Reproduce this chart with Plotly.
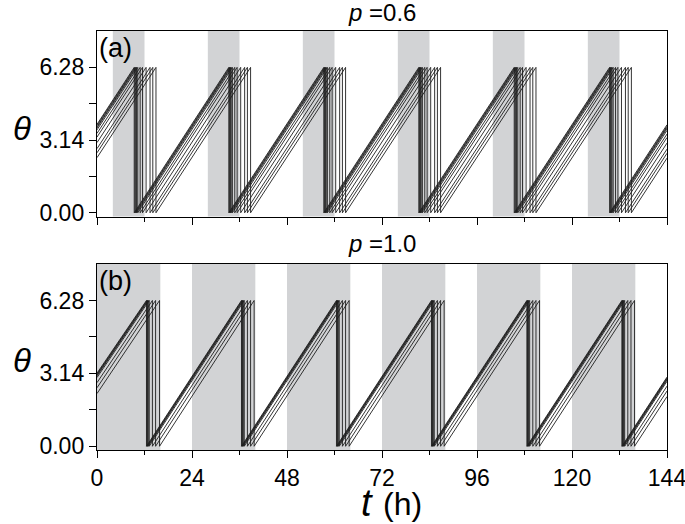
import plotly.graph_objects as go

# ---------------- data ----------------
TWO_PI = 6.28

# shaded (dark-phase) bands, hours
bands_a_start = [4, 28, 52, 76, 100, 124]
bands_a_end = [12, 36, 60, 84, 108, 132]
bands_b_start = [0, 24, 48, 72, 96, 120]
bands_b_end = [16, 40, 64, 88, 112, 136]

# panel (a) p = 0.6 : phase value at t=0, times where phase wraps 2pi->0, value at t=144
start_a = [3.82, 3.77, 3.71, 3.66, 3.58, 3.43, 3.27, 3.03, 2.77, 2.59, 2.38]
drops_a = [
    [9.4, 33.3, 57.3, 81.3, 105.4, 129.5],
    [9.6, 33.5, 57.5, 81.5, 105.6, 129.7],
    [9.8, 33.7, 57.7, 81.7, 105.8, 129.9],
    [10.0, 33.9, 57.9, 81.9, 106.0, 130.1],
    [10.3, 34.2, 58.2, 82.2, 106.3, 130.4],
    [10.9, 34.8, 58.8, 82.8, 106.9, 131.0],
    [11.5, 35.4, 59.4, 83.4, 107.5, 131.6],
    [12.4, 36.3, 60.3, 84.3, 108.4, 132.5],
    [13.4, 37.3, 61.3, 85.3, 109.4, 133.5],
    [14.1, 38.0, 62.0, 86.0, 110.1, 134.2],
    [14.9, 38.8, 62.8, 86.8, 110.9, 135.0],
]
end_a = [3.80, 3.74, 3.69, 3.64, 3.56, 3.40, 3.25, 3.01, 2.75, 2.57, 2.36]

# panel (b) p = 1.0
start_b = [3.15, 3.11, 3.07, 3.03, 2.96, 2.74, 2.52, 2.27]
drops_b = [
    [12.5, 36.5, 60.5, 84.5, 108.6, 132.6],
    [12.65, 36.65, 60.65, 84.65, 108.75, 132.75],
    [12.8, 36.8, 60.8, 84.8, 108.9, 132.9],
    [12.95, 36.95, 60.95, 84.95, 109.05, 133.05],
    [13.2, 37.2, 61.2, 85.2, 109.3, 133.3],
    [14.0, 38.0, 62.0, 86.0, 110.1, 134.1],
    [14.8, 38.8, 62.8, 86.8, 110.9, 134.9],
    [15.8, 39.7, 63.7, 87.7, 111.8, 135.8],
]
end_b = [2.98, 2.94, 2.90, 2.86, 2.80, 2.59, 2.38, 2.14]

x_ticks = [0, 24, 48, 72, 96, 120, 144]
y_ticks = [0, 3.14, 6.28]
y_ticktext = ["0.00", "3.14", "6.28"]

T_END = 144

# ---------------- figure ----------------
fig = go.Figure()

def add_lines(starts, drops, ends, xa, ya):
    for s, ds, e in zip(starts, drops, ends):
        xs = [0]
        ys = [s]
        for d in ds:
            xs += [d, d]
            ys += [TWO_PI, 0]
        xs.append(T_END)
        ys.append(e)
        fig.add_trace(go.Scatter(x=xs, y=ys, mode="lines", xaxis=xa, yaxis=ya,
                                 line=dict(color="#1e1e1e", width=0.9),
                                 showlegend=False, hoverinfo="skip"))

add_lines(start_a, drops_a, end_a, "x", "y")
add_lines(start_b, drops_b, end_b, "x2", "y2")

shapes = []
for s, e in zip(bands_a_start, bands_a_end):
    shapes.append(dict(type="rect", xref="x", yref="y domain", x0=s, x1=e, y0=0, y1=1,
                       fillcolor="#d2d3d5", line=dict(width=0), layer="below"))
for s, e in zip(bands_b_start, bands_b_end):
    shapes.append(dict(type="rect", xref="x2", yref="y2 domain", x0=s, x1=e, y0=0, y1=1,
                       fillcolor="#d2d3d5", line=dict(width=0), layer="below"))

FONT = "Liberation Sans, Arial, sans-serif"

def xaxis(domain_anchor, labels):
    return dict(domain=[0, 1], anchor=domain_anchor, range=[0, T_END], automargin=False,
                tickmode="array", tickvals=x_ticks, ticktext=[str(v) for v in x_ticks],
                showticklabels=labels, ticklabeloverflow="allow",
                ticks="outside", ticklen=7, tickwidth=1.3, tickcolor="black",
                minor=dict(dtick=12, tick0=0, ticks="outside", ticklen=4, tickwidth=1.3, tickcolor="black"),
                showline=True, linecolor="black", linewidth=1.4, mirror=True,
                showgrid=False, zeroline=False,
                tickfont=dict(family=FONT, size=23, color="black"))

def yaxis(domain, anchor):
    return dict(domain=domain, anchor=anchor, range=[-0.16, 7.85], automargin=False,
                tickmode="array", tickvals=y_ticks, ticktext=y_ticktext,
                ticklabeloverflow="allow",
                ticks="outside", ticklen=7, tickwidth=1.3, tickcolor="black",
                minor=dict(tickvals=[1.57, 4.71], ticks="outside", ticklen=7, tickwidth=1.3, tickcolor="black"),
                showline=True, linecolor="black", linewidth=1.4, mirror=True,
                showgrid=False, zeroline=False,
                tickfont=dict(family=FONT, size=23, color="black"))

H = 524 - 31 - 74
YA0 = (450 - 216.5) / H
YB1 = (450 - 264) / H

def ann(text, x, y, size, xanchor="center", yanchor="middle", xshift=0, yshift=0):
    return dict(text=text, x=x, y=y, xref="paper", yref="paper", xanchor=xanchor, yanchor=yanchor,
                xshift=xshift, yshift=yshift, showarrow=False,
                font=dict(family=FONT, size=size, color="black"))

fig.update_layout(
    width=685, height=524,
    margin=dict(l=97, r=18, t=31, b=74, autoexpand=False),
    paper_bgcolor="white", plot_bgcolor="white",
    shapes=shapes,
    xaxis=xaxis("y", False),
    yaxis=yaxis([YA0, 1], "x"),
    xaxis2=xaxis("y2", True),
    yaxis2=yaxis([0, YB1], "x2"),
    annotations=[
        ann("<i>p</i> =0.6", 0.5, 1, 24, yshift=19),
        ann("<i>p</i> =1.0", 0.5, YB1, 24, yshift=21),
        ann("(a)", 0, 1, 27, xanchor="left", yanchor="top", xshift=0, yshift=0),
        ann("(b)", 0, YB1, 27, xanchor="left", yanchor="top"),
        ann("<i>θ</i>", 0, (1 + YA0) / 2, 33, xshift=-75, yshift=-5),
        ann("<i>θ</i>", 0, YB1 / 2, 33, xshift=-75, yshift=-3),
        ann("<i>t</i>", 0.5, 0, 38, xshift=-15, yshift=-53),
        ann("(h)", 0.5, 0, 32, xshift=20, yshift=-54),
    ],
)

fig.write_html("out.html", config={"displayModeBar": False},
               post_script="document.body.style.margin='0';document.body.style.overflow='hidden';")
